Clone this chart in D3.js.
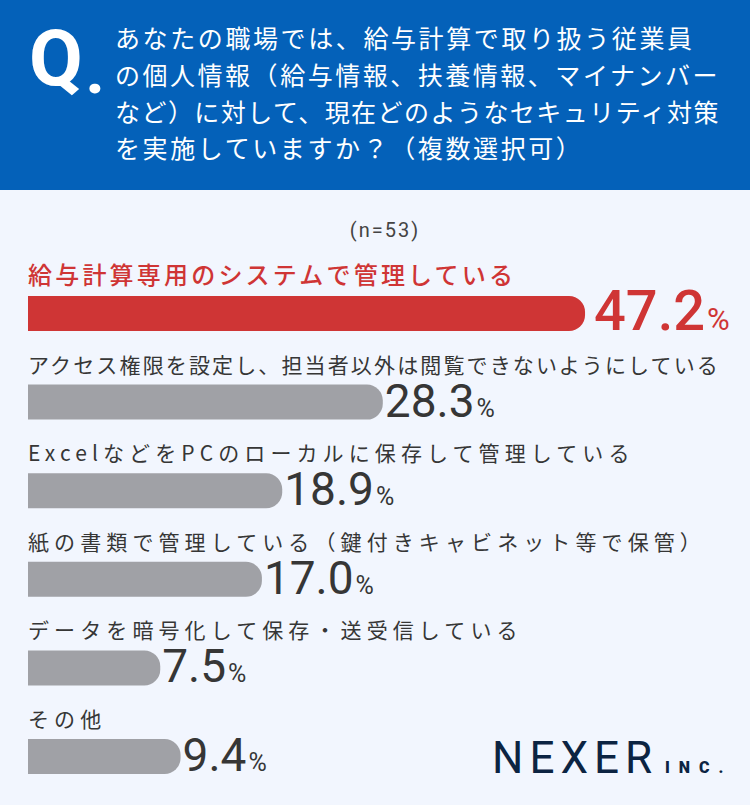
<!DOCTYPE html>
<html>
<head>
<meta charset="utf-8">
<script src="https://cdn.jsdelivr.net/npm/d3@7/dist/d3.min.js"></script>
<style>
  html, body { margin: 0; padding: 0; background: #f2f6fe; }
  svg { display: block; }
</style>
</head>
<body>
<svg id="chart" width="750" height="805"></svg>
<script>
// ---- data ----
const titleLines = [
  "あなたの職場では、給与計算で取り扱う従業員",
  "の個人情報（給与情報、扶養情報、マイナンバー",
  "など）に対して、現在どのようなセキュリティ対策",
  "を実施していますか？（複数選択可）"
];
const sampleLabel = "(n=53)";
const categories = [
  "給与計算専用のシステムで管理している",
  "アクセス権限を設定し、担当者以外は閲覧できないようにしている",
  "ExcelなどをPCのローカルに保存して管理している",
  "紙の書類で管理している（鍵付きキャビネット等で保管）",
  "データを暗号化して保存・送受信している",
  "その他"
];
const values = [47.2, 28.3, 18.9, 17.0, 7.5, 9.4];
const highlighted = ["給与計算専用のシステムで管理している"];
const brandName = "NEXER";
const brandSuffix = "INC.";

// ---- drawing ----
const W = 750, H = 805;
const svg = d3.select("#chart");
const JP = "'Noto Sans CJK JP', 'Noto Sans', sans-serif";
const NUM = "Roboto, 'Noto Sans', sans-serif";
const RED = "#cf3535", GRAY = "#a0a1a6", DARK = "#363636", BLUE = "#0461b9";

svg.append("rect").attr("width", W).attr("height", H).attr("fill", "#f2f6fe");

// helper: shrink letter-spacing so a text fits a max width
function fitSpacing(sel, baseLs, maxW) {
  sel.each(function(d) {
    const len = this.getComputedTextLength();
    if (len > maxW) {
      const n = this.textContent.length;
      d3.select(this).style("letter-spacing", (baseLs - (len - maxW) / n) + "px");
    }
  });
}

// header
svg.append("rect").attr("width", W).attr("height", 190).attr("fill", BLUE);
svg.append("text").attr("x", 29).attr("y", 85)
  .attr("font-family", NUM).attr("font-weight", 700).attr("font-size", 78)
  .attr("fill", "#fff").text("Q");
svg.append("text").attr("x", 86).attr("y", 93)
  .attr("font-family", NUM).attr("font-weight", 900).attr("font-size", 60)
  .attr("fill", "#fff").text(".");
svg.append("g").selectAll("text").data(titleLines).join("text")
  .attr("x", 115).attr("y", (d, i) => 48 + i * 36.8)
  .attr("font-family", JP).attr("font-size", 25).attr("font-weight", 400)
  .style("letter-spacing", "2.6px")
  .attr("fill", "#fff").text(d => d)
  .call(fitSpacing, 2.6, 605);

// sample size
svg.append("text").attr("x", 385).attr("y", 237)
  .attr("text-anchor", "middle")
  .attr("font-family", NUM).attr("font-size", 20)
  .style("letter-spacing", "2px")
  .attr("fill", "#444").text(sampleLabel);

// scales
const barLeft = 28, barH = 35;
const x = d3.scaleLinear().domain([0, 50]).range([barLeft + 52, barLeft + 52 + 535]);
const y = d3.scaleBand().domain(categories).range([296, 296 + 6 * 88.6]).paddingInner(0);
const fmt = d3.format(".1f");

function barPath(x0, y0, w, h, r) {
  const p = d3.path();
  p.moveTo(x0, y0);
  p.lineTo(x0 + w - r, y0);
  p.arcTo(x0 + w, y0, x0 + w, y0 + r, r);
  p.lineTo(x0 + w, y0 + h - r);
  p.arcTo(x0 + w, y0 + h, x0 + w - r, y0 + h, r);
  p.lineTo(x0, y0 + h);
  p.closePath();
  return p.toString();
}

const rows = categories.map((c, i) => ({ cat: c, val: values[i], hi: highlighted.includes(c) }));

const g = svg.append("g");
const row = g.selectAll("g.row").data(rows).join("g").attr("class", "row");

row.append("path")
  .attr("d", d => barPath(barLeft, y(d.cat), x(d.val) - barLeft, barH, 16))
  .attr("fill", d => d.hi ? RED : GRAY);

const maxLabelW = 692;
row.append("text")
  .attr("x", barLeft)
  .attr("y", d => y(d.cat) - 12)
  .attr("font-family", JP)
  .attr("font-size", d => d.hi ? 24 : 21)
  .attr("font-weight", d => d.hi ? 500 : 400)
  .attr("fill", d => d.hi ? RED : DARK)
  .style("letter-spacing", d => d.hi ? "3.2px" : "5.1px")
  .text(d => d.cat)
  .each(function(d) {
    const len = this.getComputedTextLength();
    if (len > maxLabelW) {
      const ls = (d.hi ? 3.2 : 5.1) - (len - maxLabelW) / d.cat.length;
      d3.select(this).style("letter-spacing", ls + "px");
    }
  });

const vt = row.append("text")
  .attr("x", d => x(d.val) + (d.hi ? 9 : 2))
  .attr("y", d => y(d.cat) + barH - (d.hi ? 1 : 3))
  .attr("font-family", NUM)
  .attr("fill", d => d.hi ? RED : DARK);
vt.append("tspan")
  .attr("font-size", d => d.hi ? 56 : 46)
  .attr("font-weight", d => d.hi ? 500 : 400)
  .text(d => fmt(d.val));
vt.append("tspan")
  .attr("dx", 2)
  .attr("font-size", d => d.hi ? 31 : 25)
  .attr("font-weight", 400)
  .text("%");

// brand
svg.append("text").attr("x", 492).attr("y", 773)
  .attr("font-family", NUM).attr("font-size", 44).attr("font-weight", 400)
  .style("letter-spacing", "6px")
  .attr("fill", "#0c2442").text(brandName);
svg.append("text").attr("x", 665).attr("y", 773)
  .attr("font-family", NUM).attr("font-size", 16).attr("font-weight", 900)
  .style("letter-spacing", "9px")
  .attr("fill", "#0c2442").text(brandSuffix);
</script>
</body>
</html>
